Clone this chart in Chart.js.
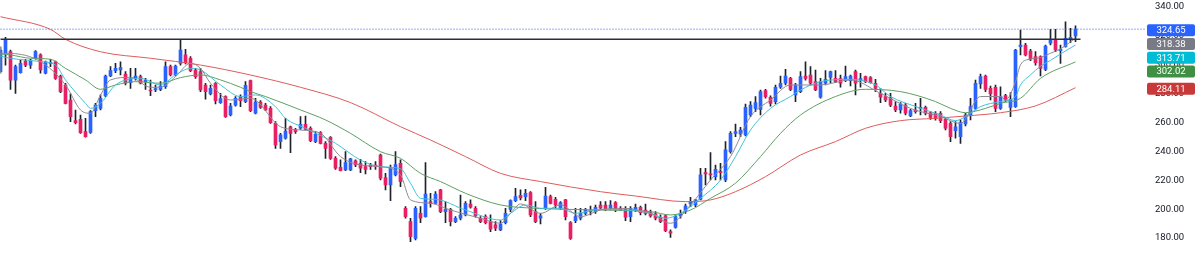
<!DOCTYPE html>
<html>
<head>
<meta charset="utf-8">
<script src="https://cdn.jsdelivr.net/npm/chart.js@4"></script>
<style>
  html, body { margin: 0; padding: 0; background: #fff; }
  #wrap { width: 1200px; height: 255px; }
</style>
</head>
<body>
<div id="wrap"><canvas id="chart" width="1200" height="255"></canvas></div>
<script>
// ===== DATA (daily candles) =====

const open = [
  295.2, 307.9, 309.1, 289.4, 294.5, 302.6, 299.8, 304.5, 306.8, 294.1,
  301.0, 302.1, 292.2, 286.0, 275.6, 261.3, 262.2, 253.7, 253.2, 268.2,
  269.8, 278.4, 292.2, 295.9, 296.4, 293.6, 287.6, 290.8, 291.8, 288.3,
  282.5, 282.5, 283.0, 284.8, 298.7, 292.9, 301.0, 306.8, 304.5, 296.4,
  295.2, 286.0, 279.8, 287.2, 273.8, 277.9, 265.2, 272.1, 277.9, 274.5,
  289.0, 266.4, 274.2, 272.1, 269.8, 259.4, 246.8, 249.1, 257.1, 254.8,
  256.0, 258.8, 256.0, 246.8, 253.0, 245.6, 249.8, 235.2, 229.0, 227.1,
  227.1, 233.4, 231.7, 229.5, 230.6, 230.6, 237.5, 221.8, 216.8, 223.7,
  231.7, 200.6, 191.4, 179.8, 197.1, 194.8, 205.2, 204.0, 213.3, 198.3,
  199.9, 191.4, 193.7, 196.0, 203.6, 200.6, 193.7, 194.8, 191.4, 189.1,
  185.6, 190.7, 199.9, 205.9, 209.6, 208.7, 211.4, 198.3, 193.7, 200.6,
  208.7, 206.8, 200.6, 206.4, 190.7, 192.1, 193.7, 197.1, 199.4, 198.3,
  202.9, 202.9, 200.6, 204.5, 200.6, 200.6, 194.8, 199.4, 201.3, 199.4,
  197.6, 196.7, 194.4, 195.3, 184.4, 187.4, 195.3, 199.0, 203.6, 202.9,
  206.8, 225.3, 224.4, 222.5, 226.0, 220.2, 239.8, 252.5, 252.1, 251.4,
  265.2, 269.8, 269.1, 282.1, 277.5, 274.5, 284.4, 287.2, 290.6, 279.1,
  281.4, 292.2, 292.9, 288.3, 277.5, 287.2, 291.3, 290.6, 290.4, 289.4,
  289.0, 295.2, 289.4, 291.8, 291.1, 287.2, 280.2, 277.9, 277.2, 271.4,
  268.7, 272.1, 264.5, 268.7, 269.8, 270.5, 266.8, 266.4, 266.4, 262.2,
  259.4, 254.4, 250.2, 259.0, 265.2, 269.8, 286.7, 292.2, 283.7, 284.4,
  269.8, 278.6, 270.5, 271.0, 312.5, 313.7, 309.5, 305.6, 305.6, 296.8,
  314.9, 317.6, 309.8, 312.5, 317.6, 319.9
];

const high = [
  312.5, 319.0, 310.2, 299.8, 303.3, 303.8, 303.8, 309.8, 307.5, 302.6,
  303.8, 302.6, 292.9, 287.2, 279.8, 268.7, 265.2, 262.9, 268.2, 273.3,
  279.1, 292.9, 298.7, 301.0, 302.1, 295.2, 297.5, 297.5, 292.9, 290.6,
  289.4, 286.0, 288.3, 302.1, 299.8, 299.8, 317.2, 310.7, 305.6, 297.5,
  297.5, 287.2, 286.0, 287.6, 280.2, 278.4, 273.3, 277.9, 279.1, 288.3,
  289.4, 276.8, 275.2, 273.3, 271.0, 260.6, 252.5, 262.9, 257.6, 256.0,
  264.1, 264.5, 257.1, 253.7, 253.7, 246.8, 250.2, 236.4, 234.1, 239.8,
  235.2, 234.1, 234.5, 232.9, 231.7, 232.9, 238.2, 224.8, 230.6, 239.8,
  234.1, 201.7, 193.7, 201.7, 201.7, 232.2, 211.0, 212.1, 213.7, 205.2,
  200.6, 194.8, 209.8, 205.2, 206.4, 201.7, 194.8, 196.0, 196.0, 191.4,
  192.1, 200.6, 206.4, 214.5, 213.3, 213.7, 212.1, 205.2, 197.1, 215.1,
  209.8, 208.2, 205.2, 206.8, 191.4, 200.6, 200.6, 200.6, 202.2, 202.9,
  205.2, 205.2, 205.9, 205.2, 201.7, 201.7, 201.7, 203.6, 202.2, 203.6,
  199.4, 198.3, 196.0, 196.0, 185.6, 196.0, 199.4, 203.6, 208.2, 206.8,
  228.3, 228.3, 239.1, 230.6, 231.7, 246.8, 253.7, 259.0, 256.7, 272.8,
  274.5, 277.9, 282.5, 283.0, 278.4, 286.0, 292.2, 296.8, 291.3, 287.2,
  295.2, 302.1, 298.7, 296.4, 290.6, 295.9, 295.7, 295.9, 292.9, 299.1,
  292.9, 296.4, 294.1, 292.2, 291.8, 289.9, 283.7, 280.2, 280.2, 274.5,
  273.8, 273.3, 269.1, 273.3, 276.8, 271.4, 267.5, 267.5, 267.5, 263.6,
  260.6, 260.6, 261.8, 266.4, 276.8, 289.4, 293.6, 292.9, 285.3, 286.0,
  284.8, 279.5, 280.7, 310.7, 324.1, 314.9, 310.7, 309.1, 306.1, 313.7,
  324.5, 324.5, 313.7, 329.8, 325.2, 326.9
];

const low = [
  294.1, 299.8, 283.0, 280.2, 294.1, 298.7, 297.5, 303.8, 294.1, 293.6,
  298.7, 289.9, 280.7, 272.8, 260.6, 259.0, 252.5, 249.8, 252.5, 264.1,
  268.7, 277.9, 291.8, 294.5, 292.9, 286.0, 283.7, 289.4, 286.7, 283.0,
  278.6, 281.4, 282.1, 283.7, 292.2, 292.2, 299.8, 300.5, 295.2, 290.6,
  281.4, 276.1, 279.1, 272.8, 273.3, 263.6, 264.5, 271.4, 271.0, 273.8,
  267.5, 265.9, 269.8, 268.2, 259.4, 242.1, 242.1, 248.4, 239.1, 252.5,
  255.3, 254.8, 246.8, 246.1, 245.1, 235.2, 234.5, 227.6, 226.5, 226.7,
  226.7, 229.5, 225.3, 224.4, 227.6, 227.6, 220.2, 213.3, 205.9, 223.0,
  215.6, 193.7, 177.5, 178.7, 190.7, 194.4, 201.3, 203.6, 197.6, 190.7,
  188.4, 190.7, 192.5, 195.3, 200.6, 194.4, 190.7, 189.7, 184.4, 185.1,
  185.1, 189.7, 198.3, 205.2, 206.4, 205.9, 194.8, 190.7, 189.7, 199.9,
  203.6, 200.6, 199.9, 192.5, 179.1, 190.7, 192.5, 196.0, 196.0, 197.1,
  199.9, 199.0, 199.4, 198.3, 199.0, 192.1, 191.4, 198.3, 196.0, 196.0,
  194.4, 192.5, 190.7, 184.4, 180.5, 186.8, 193.7, 197.1, 201.7, 201.7,
  206.4, 216.8, 220.2, 220.2, 220.2, 219.1, 238.7, 250.2, 250.2, 250.7,
  264.1, 267.5, 265.2, 276.8, 271.4, 272.8, 283.7, 286.0, 282.1, 274.5,
  280.7, 289.4, 286.0, 282.1, 276.8, 286.0, 287.6, 287.6, 284.4, 288.3,
  285.3, 279.1, 284.4, 287.6, 287.2, 281.4, 273.8, 274.5, 271.0, 267.5,
  266.4, 265.2, 264.1, 266.4, 265.2, 265.2, 262.2, 261.7, 259.9, 254.8,
  246.8, 249.1, 245.6, 257.6, 261.8, 268.7, 283.7, 281.4, 275.6, 267.5,
  269.1, 274.5, 264.1, 270.5, 306.8, 306.1, 302.8, 299.8, 292.2, 295.9,
  313.7, 309.1, 301.0, 312.1, 315.3, 316.0
];

const close = [
  310.2, 317.1, 289.4, 298.7, 301.0, 299.8, 303.3, 309.1, 296.4, 302.1,
  301.5, 290.6, 281.4, 273.3, 264.1, 259.9, 253.0, 250.2, 267.5, 272.1,
  276.7, 292.2, 295.9, 297.5, 298.0, 287.2, 290.4, 292.2, 287.2, 289.4,
  281.8, 283.5, 285.3, 298.7, 292.9, 299.1, 310.2, 301.5, 295.9, 291.8,
  282.5, 281.4, 283.7, 275.1, 276.5, 264.1, 271.4, 276.7, 275.1, 285.8,
  268.2, 274.2, 270.5, 268.7, 259.9, 244.5, 251.4, 254.1, 252.5, 253.7,
  258.8, 255.3, 247.5, 251.8, 245.6, 242.1, 235.2, 228.3, 226.7, 232.2,
  234.8, 230.6, 228.3, 227.6, 229.5, 229.5, 221.4, 216.8, 229.0, 230.8,
  219.1, 194.8, 181.0, 200.6, 193.7, 210.5, 204.0, 210.5, 198.3, 199.9,
  191.4, 193.7, 196.0, 204.0, 201.3, 195.3, 191.4, 190.7, 186.1, 186.8,
  189.7, 197.1, 205.9, 208.7, 207.7, 211.0, 196.0, 191.4, 195.3, 209.1,
  204.0, 202.9, 204.5, 194.8, 179.8, 194.8, 197.1, 199.9, 198.3, 201.3,
  200.6, 199.9, 202.9, 199.4, 199.4, 194.4, 200.6, 201.3, 197.6, 197.1,
  195.3, 193.7, 191.4, 185.1, 183.3, 194.8, 197.1, 202.2, 205.0, 206.4,
  223.7, 224.4, 223.7, 227.6, 225.3, 241.0, 252.5, 253.7, 254.8, 270.5,
  272.1, 273.8, 281.4, 277.9, 273.3, 284.4, 287.2, 292.2, 283.0, 286.0,
  291.8, 290.6, 287.2, 282.5, 288.3, 289.9, 295.2, 288.3, 287.2, 291.8,
  292.2, 287.2, 290.4, 288.3, 287.6, 283.7, 277.5, 275.6, 272.1, 268.7,
  272.8, 266.4, 268.2, 267.5, 270.5, 266.4, 263.6, 262.9, 261.3, 256.0,
  250.2, 257.1, 259.9, 265.2, 271.0, 287.2, 291.8, 283.0, 279.8, 269.8,
  277.9, 275.6, 276.1, 310.2, 313.7, 306.8, 303.8, 301.5, 297.5, 313.0,
  317.6, 310.2, 310.7, 318.3, 319.0, 324.65
];

// moving averages, read as [bar index, value]
const maGray = [
  [0, 308.0], [2, 307.9], [8, 302.2], [13, 286.0], [16, 268.7], [18, 266.4], [20, 279.0],
  [22, 289.5], [26, 291.3], [30, 284.4], [32, 284.4], [35, 291.8], [38, 301.0], [40, 297.5],
  [42, 287.2], [46, 275.6], [50, 276.8], [56, 257.1], [60, 254.8], [64, 252.5], [68, 236.4],
  [72, 230.6], [76, 229.4], [80, 223.7], [82, 206.4], [86, 204.1], [90, 199.4], [96, 193.7],
  [100, 190.2], [102, 197.1], [104, 203.6], [108, 197.1], [112, 202.9], [116, 194.8],
  [120, 199.4], [124, 200.6], [130, 197.1], [134, 190.2], [138, 202.9], [142, 220.2],
  [146, 236.4], [150, 264.1], [154, 275.6], [158, 286.0], [164, 286.0], [170, 289.5],
  [176, 280.2], [182, 269.8], [188, 264.1], [192, 259.4], [196, 278.0], [200, 278.0],
  [201, 275.6], [203, 288.3], [204, 300.0], [206, 304.0], [208, 305.0], [210, 308.0],
  [212, 311.0], [215, 318.38]
];
const maCyan = [
  [0, 306.0], [2, 304.5], [8, 302.2], [11, 299.8], [13, 289.5], [17, 273.3], [18, 269.8],
  [20, 273.3], [23, 286.0], [28, 290.6], [32, 286.0], [35, 293.0], [38, 297.5], [40, 296.4],
  [44, 286.0], [48, 278.0], [51, 279.1], [55, 271.0], [57, 262.9], [61, 256.0], [67, 245.6],
  [72, 234.0], [76, 229.4], [80, 228.0], [82, 217.9], [84, 207.5], [87, 206.8], [93, 199.4],
  [100, 192.5], [102, 197.1], [105, 202.9], [108, 200.6], [112, 200.6], [115, 197.1],
  [120, 199.9], [130, 197.1], [133, 193.7], [136, 197.1], [140, 207.5], [144, 220.2],
  [147, 236.4], [150, 254.8], [154, 269.8], [158, 278.0], [160, 282.5], [164, 288.3],
  [170, 289.9], [175, 286.0], [178, 278.0], [183, 271.1], [188, 265.2], [191, 261.3],
  [193, 264.1], [196, 271.0], [200, 274.5], [203, 278.0], [204, 286.0], [206, 293.0],
  [208, 299.0], [210, 303.0], [212, 307.5], [215, 313.71]
];
const maGreen = [
  [0, 307.5], [2, 306.8], [6, 304.5], [10, 303.8], [13, 297.5], [17, 289.5], [20, 283.0],
  [23, 286.0], [27, 288.3], [32, 287.2], [36, 291.1], [40, 293.0], [44, 289.5], [48, 284.4],
  [50, 281.4], [53, 278.0], [60, 268.7], [65, 261.8], [70, 252.5], [76, 239.8], [80, 235.2],
  [84, 224.8], [88, 219.1], [93, 211.0], [100, 202.9], [107, 200.6], [113, 199.9],
  [120, 199.4], [130, 198.3], [134, 196.0], [138, 199.4], [142, 207.5], [147, 218.0],
  [152, 236.4], [156, 252.5], [160, 265.2], [167, 278.0], [173, 283.0], [180, 281.4],
  [187, 274.5], [190, 269.8], [193, 266.8], [197, 269.8], [200, 273.3], [204, 276.8],
  [208, 290.6], [215, 302.02]
];
const maRed = [
  [0, 333.3], [10, 324.5], [13, 317.6], [20, 309.0], [30, 304.5], [40, 299.8], [50, 292.9],
  [60, 284.4], [70, 273.8], [80, 257.1], [86, 247.9], [93, 236.4], [100, 224.8],
  [108, 219.1], [120, 212.1], [127, 209.1], [137, 205.2], [142, 206.4], [147, 212.1],
  [153, 222.5], [160, 237.5], [167, 246.8], [173, 256.0], [180, 261.3], [187, 262.9],
  [193, 264.5], [200, 266.8], [207, 271.5], [215, 284.11]
];

const levelLine = 317.7;          // hand-drawn horizontal
const levelEnd = 216;             // bar index where it stops
const yTicks = [180, 200, 220, 240, 260, 280, 300, 320, 340];
const emptyBars = 14;             // blank space right of the last candle

// ===== STYLE =====
const UP = '#2962ff';
const DOWN = '#e91e63';
const WICK = '#1e222d';
const COLORS = { gray: '#8f8b93', cyan: '#3fc3d6', green: '#5f9f64', red: '#de5c5c' };
const TAGS = { close: '#2962ff', gray: '#787b86', cyan: '#00bcd4', green: '#3f8f45', red: '#c83a3a' };

const labels = Array.from({ length: close.length + emptyBars }, (_, i) => i);
const lastClose = close[close.length - 1];
const lastOf = arr => arr[arr.length - 1][1];

function maLine(points, color) {
  return {
    type: 'line',
    data: points.map(([x, y]) => ({ x, y })),
    borderColor: color,
    borderWidth: 1,
    pointRadius: 0,
    cubicInterpolationMode: 'monotone',
    fill: false
  };
}

// price tags on the right scale, pushed down so they don't overlap
const priceTags = {
  id: 'priceTags',
  afterDraw(chart) {
    const { ctx, scales: { y } } = chart;
    const tags = [
      { value: lastClose, color: TAGS.close },
      { value: lastOf(maGray), color: TAGS.gray },
      { value: lastOf(maCyan), color: TAGS.cyan },
      { value: lastOf(maGreen), color: TAGS.green },
      { value: lastOf(maRed), color: TAGS.red }
    ].sort((a, b) => b.value - a.value);

    ctx.save();
    ctx.font = '9.5px Roboto';
    ctx.textAlign = 'center';
    ctx.textBaseline = 'middle';
    let prev = -Infinity;
    const x0 = y.left + 1.5;
    for (const t of tags) {
      const yy = Math.max(y.getPixelForValue(t.value) + 1, prev + 13.8);
      prev = yy;
      ctx.fillStyle = t.color;
      ctx.beginPath();
      ctx.roundRect(x0, yy - 6, 48, 12, 2);
      ctx.fill();
      ctx.fillStyle = '#ffffff';
      ctx.fillText(t.value.toFixed(2), x0 + 24, yy + 0.5);
    }
    ctx.restore();
  }
};

new Chart(document.getElementById('chart'), {
  type: 'bar',
  data: {
    labels,
    datasets: [
      {
        type: 'line',
        data: [{ x: 0, y: lastClose }, { x: labels.length - 1, y: lastClose }],
        borderColor: UP,
        borderWidth: 1,
        borderDash: [1, 2],
        pointRadius: 0
      },
      {
        type: 'line',
        data: [{ x: 0, y: levelLine }, { x: levelEnd, y: levelLine }],
        borderColor: '#2a2e39',
        borderWidth: 1.5,
        pointRadius: 0
      },
      maLine(maGray, COLORS.gray),
      maLine(maCyan, COLORS.cyan),
      maLine(maGreen, COLORS.green),
      maLine(maRed, COLORS.red),
      {
        label: 'body',
        data: open.map((o, i) => [o, close[i]]),
        backgroundColor: close.map((c, i) => (c >= open[i] ? UP : DOWN)),
        barThickness: 3,
        minBarLength: 1,
        grouped: false
      },
      {
        label: 'wick',
        data: low.map((l, i) => [l, high[i]]),
        backgroundColor: WICK,
        barThickness: 1,
        grouped: false
      }
    ]
  },
  options: {
    responsive: false,
    animation: false,
    events: [],
    devicePixelRatio: 1,
    layout: { padding: { left: 0.5, right: 0, top: 0, bottom: 0 } },
    plugins: {
      legend: { display: false },
      tooltip: { enabled: false }
    },
    scales: {
      x: {
        type: 'category',
        display: false,
        offset: false
      },
      y: {
        position: 'right',
        min: 168.25,
        max: 344.85,
        grid: { display: false, drawTicks: false },
        border: { display: false },
        ticks: {
          color: '#131722',
          padding: 9.5,
          font: { family: 'Roboto', size: 9.5 },
          callback: v => Number(v).toFixed(2)
        },
        afterBuildTicks(scale) {
          scale.ticks = yTicks.map(v => ({ value: v }));
        },
        afterFit(scale) {
          scale.width = 54.5;
          scale.paddingTop = 0;
          scale.paddingBottom = 0;
        }
      }
    }
  },
  plugins: [priceTags]
});
</script>
</body>
</html>
